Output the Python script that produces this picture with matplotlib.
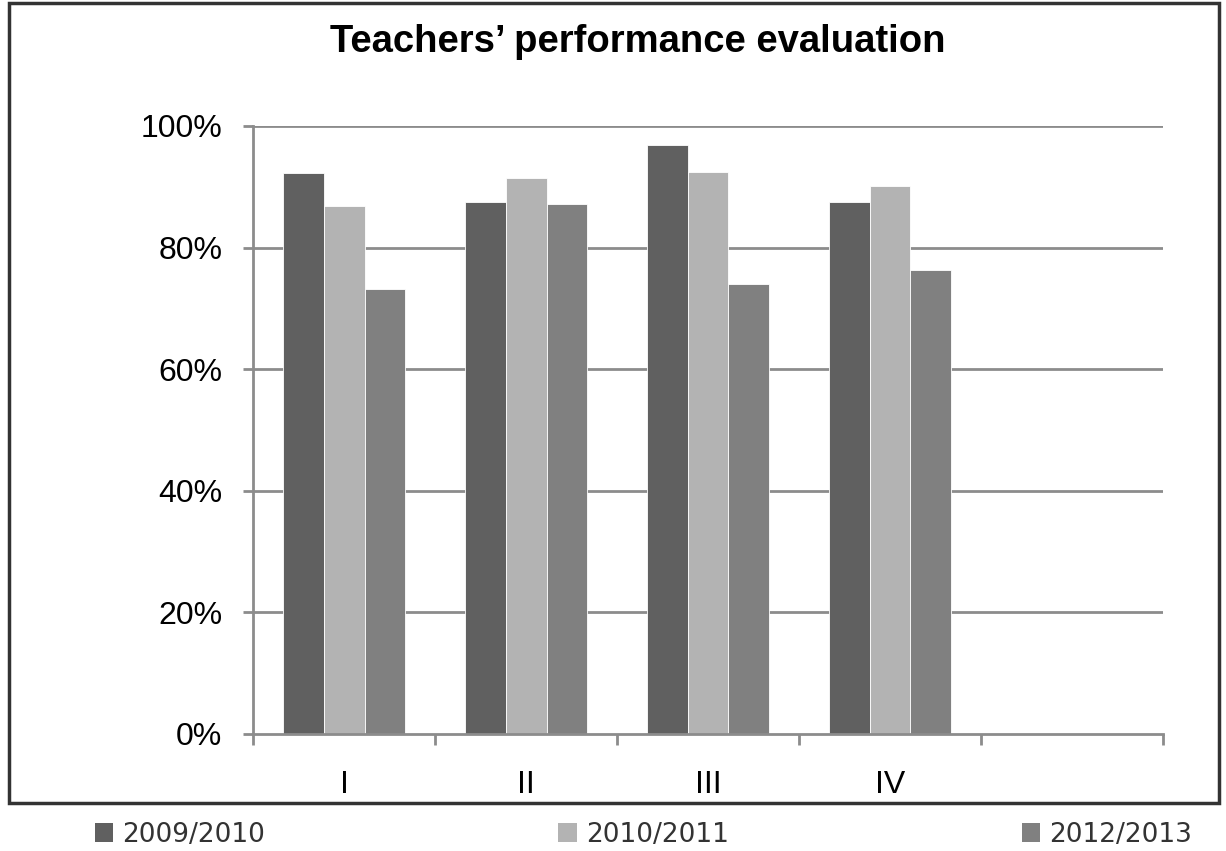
import matplotlib
matplotlib.use("Agg")
import matplotlib.pyplot as plt
from matplotlib.patches import Rectangle, Patch
import numpy as np

categories = ["I", "II", "III", "IV", ""]
series_names = ["2009/2010", "2010/2011", "2012/2013"]
s2009 = [92.3, 87.5, 96.9, 87.5]
s2010 = [86.8, 91.4, 92.4, 90.1]
s2012 = [73.2, 87.2, 74.0, 76.3]
colors = ["#606060", "#b3b3b3", "#808080"]
yticks = [0, 20, 40, 60, 80, 100]
ytick_labels = ["0%", "20%", "40%", "60%", "80%", "100%"]

fig = plt.figure(figsize=(12.26, 8.51), dpi=100)
ax = fig.add_axes([0.2064, 0.1375, 0.7422, 0.7145])

tick_font = ["Liberation Sans", "DejaVu Sans"]

ax.set_ylim(0, 100)
ax.set_xlim(-0.5, len(categories) - 0.5)
ax.set_yticks(yticks)
for y in yticks[1:]:
    ax.axhline(y, color="#8c8c8c", lw=2, zorder=1)

w = 0.225
series = [s2009, s2010, s2012]
x = np.arange(len(s2009))
for i, (vals, c) in enumerate(zip(series, colors)):
    ax.bar(x + (i - 1) * w, vals, width=w, color=c, zorder=2,
           edgecolor="white", linewidth=0.6)

ax.set_xticks(np.arange(len(categories)))
ax.set_xticklabels(categories, fontsize=23, family=tick_font)
ax.set_xticks(np.arange(len(categories) + 1) - 0.5, minor=True)
ax.tick_params(axis="x", which="major", length=0, pad=26)
ax.tick_params(axis="x", which="minor", length=8, width=2, color="#8c8c8c", direction="out")
ax.set_yticklabels(ytick_labels, fontsize=23, family=tick_font)
ax.tick_params(axis="y", length=7, width=2, color="#8c8c8c", pad=15)

for s in ["top", "right"]:
    ax.spines[s].set_visible(False)
for s in ["left", "bottom"]:
    ax.spines[s].set_color("#8c8c8c")
    ax.spines[s].set_linewidth(2)

fig.text(0.52, 0.939, "Teachers\u2019 performance evaluation", ha="center", va="baseline",
         fontsize=27.5, fontweight="bold", family=["Liberation Sans", "DejaVu Sans"])

fig.patches.append(Rectangle((0.007, 0.056), 0.987, 0.94, transform=fig.transFigure,
                             fill=False, edgecolor="#333333", linewidth=2.5))

handles = [Patch(facecolor=c, edgecolor="none") for c in colors]
leg = fig.legend(handles, series_names, loc="center", ncol=3, mode="expand",
                 bbox_to_anchor=(0.058, 0.0, 0.934, 0.038), frameon=False,
                 handlelength=0.7, handleheight=0.7, handletextpad=0.35,
                 prop={"family": ["DejaVu Sans"], "size": 19})
for t in leg.get_texts():
    t.set_color("#333333")

fig.savefig("out.png", dpi=100)
